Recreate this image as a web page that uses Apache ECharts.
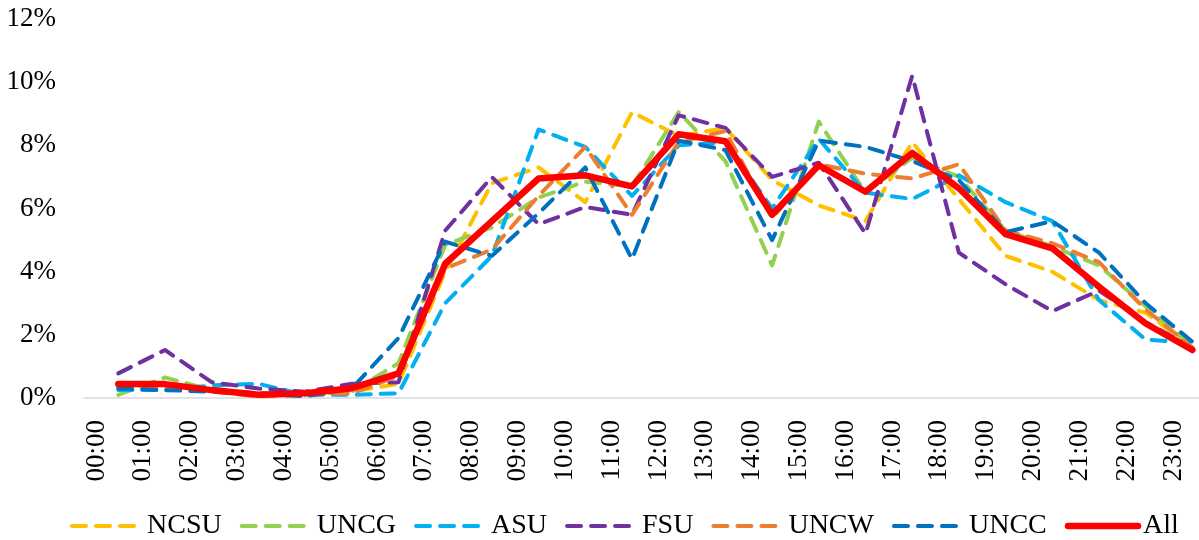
<!DOCTYPE html>
<html>
<head>
<meta charset="utf-8">
<script src="https://cdn.jsdelivr.net/npm/echarts@6/dist/echarts.min.js"></script>
<style>
html,body{margin:0;padding:0;background:#fff;}
#chart{width:1199px;height:540px;}
</style>
</head>
<body>
<div id="chart"></div>
<script>
var hours = ['00:00','01:00','02:00','03:00','04:00','05:00','06:00','07:00','08:00','09:00','10:00','11:00',
             '12:00','13:00','14:00','15:00','16:00','17:00','18:00','19:00','20:00','21:00','22:00','23:00'];
var yTicks = [0, 2, 4, 6, 8, 10, 12];
var NCSU = [0.35,0.45,0.3,0.15,0.15,0.2,0.45,4.0,6.8,7.3,6.2,9.05,8.3,8.55,6.9,6.1,5.6,8.1,6.3,4.5,4.0,3.1,2.7,1.6];
var UNCG = [0.1,0.65,0.25,0.1,0.1,0.2,1.1,4.85,5.4,6.35,6.85,6.7,9.05,7.5,4.2,8.75,6.5,7.6,7.0,5.3,4.8,4.2,2.9,1.65];
var ASU  = [0.25,0.25,0.4,0.45,0.1,0.1,0.15,3.0,4.5,8.5,7.95,6.4,8.0,8.1,6.0,8.2,6.5,6.3,7.05,6.2,5.6,3.1,1.85,1.75];
var FSU  = [0.78,1.52,0.5,0.3,0.2,0.45,0.5,5.3,7.0,5.5,6.05,5.8,8.95,8.55,7.0,7.45,5.2,10.2,4.6,3.6,2.75,3.4,2.4,1.6];
var UNCW = [0.4,0.35,0.2,0.05,0.1,0.15,0.7,4.1,4.7,6.4,7.95,5.8,8.1,8.45,5.7,7.4,7.1,6.95,7.4,5.3,4.9,4.3,2.8,1.6];
var UNCC = [0.3,0.25,0.2,0.15,0.05,0.3,1.9,4.95,4.5,5.85,7.3,4.4,8.15,7.85,5.0,8.15,7.95,7.5,6.9,5.25,5.6,4.6,3.0,1.78];
var ALL  = [0.44,0.44,0.25,0.1,0.15,0.31,0.78,4.25,5.6,6.95,7.05,6.7,8.35,8.13,5.8,7.37,6.53,7.76,6.64,5.19,4.74,3.52,2.36,1.52];

var seriesNames = ['NCSU','UNCG','ASU','FSU','UNCW','UNCC','All'];
var seriesData = [NCSU, UNCG, ASU, FSU, UNCW, UNCC, ALL];
var seriesColors = ['#FFC000','#92D050','#00B0F0','#7030A0','#ED7D31','#0070C0','#FF0000'];

var FONT = 'Liberation Serif';
var chart = echarts.init(document.getElementById('chart'), null, {renderer:'canvas'});

function styleFor(k){
  var isAll = seriesNames[k] === 'All';
  return isAll ? {color: seriesColors[k], width: 6.5, type: 'solid', cap: 'round', join: 'round'}
               : {color: seriesColors[k], width: 4, type: [14, 10], cap: 'round', join: 'round'};
}

var series = seriesNames.map(function(name, k){
  return {
    name: name,
    type: 'line',
    xAxisIndex: 1,
    yAxisIndex: 1,
    data: seriesData[k],
    symbol: 'none',
    smooth: false,
    z: name === 'All' ? 5 : 3,
    lineStyle: styleFor(k),
    itemStyle: {color: seriesColors[k]}
  };
});

var legendData = seriesNames.map(function(name, k){
  var s = styleFor(k);
  return {name: name, lineStyle: {width: s.width, type: s.type, cap: 'round', color: s.color}};
});

var option = {
  animation: false,
  backgroundColor: '#ffffff',
  grid: [
    {left: 84, right: 0, top: 19, bottom: 142},
    {left: 118.3, right: 6.6, top: 19, bottom: 142},
    {left: 96.5, right: 25.5, top: 19, bottom: 142}
  ],
  xAxis: [
    {type: 'category', gridIndex: 0, data: hours, boundaryGap: false,
     axisLine: {show: true, lineStyle: {color: '#D9D9D9', width: 1.5}},
     axisTick: {show: false}, axisLabel: {show: false}, splitLine: {show: false}},
    {type: 'category', gridIndex: 1, data: hours, boundaryGap: false,
     axisLine: {show: false}, axisTick: {show: false}, axisLabel: {show: false}, splitLine: {show: false}},
    {type: 'category', gridIndex: 2, data: hours, boundaryGap: false,
     axisLine: {show: false}, axisTick: {show: false}, splitLine: {show: false},
     axisLabel: {show: true, rotate: 90, interval: 0, margin: 22, color: '#000',
                 fontFamily: FONT, fontSize: 27}}
  ],
  yAxis: [
    {type: 'value', gridIndex: 0, min: yTicks[0], max: yTicks[yTicks.length-1], interval: 2,
     axisLine: {show: false}, axisTick: {show: false}, splitLine: {show: false},
     axisLabel: {show: true, margin: 28, color: '#000', fontFamily: FONT, fontSize: 27,
                 formatter: function(v){ return v + '%'; }}},
    {type: 'value', gridIndex: 1, min: yTicks[0], max: yTicks[yTicks.length-1], interval: 2,
     axisLine: {show: false}, axisTick: {show: false}, splitLine: {show: false}, axisLabel: {show: false}},
    {type: 'value', gridIndex: 2, min: yTicks[0], max: yTicks[yTicks.length-1], interval: 2,
     axisLine: {show: false}, axisTick: {show: false}, splitLine: {show: false}, axisLabel: {show: false}}
  ],
  legend: {
    data: legendData,
    left: 65,
    top: 507,
    itemWidth: 70,
    itemHeight: 14,
    itemGap: 18,
    itemStyle: {opacity: 0, borderWidth: 0},
    textStyle: {color: '#000', fontFamily: FONT, fontSize: 28}
  },
  series: series
};
chart.setOption(option);
</script>
</body>
</html>
